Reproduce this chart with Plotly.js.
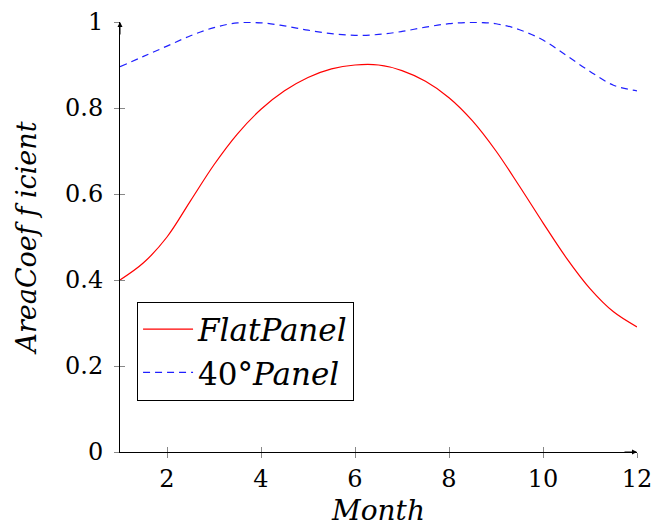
<!DOCTYPE html>
<html>
<head>
<meta charset="utf-8">
<script src="https://cdn.plot.ly/plotly-3.0.1.min.js"></script>
<style>
html,body{margin:0;padding:0;background:#fff;}
#chart{width:655px;height:527px;}
</style>
</head>
<body>
<div id="chart"></div>
<script>
// Months (half-month sampling)
const months = [1,1.5,2,2.5,3,3.5,4,4.5,5,5.5,6,6.5,7,7.5,8,8.5,9,9.5,10,10.5,11,11.5,12];
const flatPanel = [0.400,0.440,0.500,0.584,0.668,0.740,0.797,0.840,0.871,0.891,0.900,0.900,0.887,0.862,0.824,0.770,0.700,0.618,0.533,0.451,0.380,0.326,0.291];
const tiltPanel = [0.896,0.920,0.944,0.968,0.987,0.998,0.998,0.991,0.981,0.973,0.969,0.971,0.978,0.988,0.996,0.999,0.996,0.982,0.958,0.922,0.885,0.853,0.840];
const seriesNames = ['<i>FlatPanel</i>', '40°<i>Panel</i>'];
const xTicks = [2,4,6,8,10,12];
const yTicks = [0,0.2,0.4,0.6,0.8,1];
const yTickText = ['0','0.2','0.4','0.6','0.8','1'];

const serif = 'DejaVu Serif';

const traces = [
  {x: months, y: flatPanel, name: seriesNames[0], type: 'scatter', mode: 'lines',
   line: {color: '#ff0000', width: 1.2, shape: 'spline', smoothing: 1}, xaxis: 'x', yaxis: 'y'},
  {x: months, y: tiltPanel, name: seriesNames[1], type: 'scatter', mode: 'lines',
   line: {color: '#2020ff', width: 1.2, dash: '7px,5px', shape: 'spline', smoothing: 1}, xaxis: 'x2', yaxis: 'y2'}
];

const baseAxis = {showgrid: false, zeroline: false, fixedrange: true};
const layout = {
  width: 655, height: 527,
  margin: {l: 120, r: 18, t: 22, b: 75},
  paper_bgcolor: '#fff', plot_bgcolor: '#fff',
  showlegend: true,
  font: {family: serif, size: 24, color: '#000'},
  xaxis: Object.assign({}, baseAxis, {
    range: [1, 12], tickvals: xTicks, ticktext: xTicks.map(String),
    ticks: 'outside', ticklen: 5, tickcolor: '#888', tickwidth: 1,
    showline: true, linecolor: '#000', linewidth: 1,
    tickfont: {family: serif, size: 24},
    title: {text: '<i>Month</i>', font: {family: serif, size: 28}, standoff: 12}
  }),
  yaxis: Object.assign({}, baseAxis, {
    range: [0, 1], tickvals: yTicks, ticktext: yTickText,
    ticks: 'outside', ticklen: 5, tickcolor: '#888', tickwidth: 1,
    showline: true, linecolor: '#000', linewidth: 1,
    tickfont: {family: serif, size: 24},
    ticklabelstandoff: 6,
    title: {text: '<i>AreaCoef f icient</i>', font: {family: serif, size: 27}, standoff: 20}
  }),
  xaxis2: Object.assign({}, baseAxis, {
    range: [1, 12], tickvals: xTicks, overlaying: 'x', anchor: 'y2',
    ticks: 'inside', ticklen: 5, tickcolor: '#888', tickwidth: 1,
    showticklabels: false, showline: false
  }),
  yaxis2: Object.assign({}, baseAxis, {
    range: [0, 1], tickvals: yTicks, overlaying: 'y', anchor: 'x2',
    ticks: 'inside', ticklen: 5, tickcolor: '#888', tickwidth: 1,
    showticklabels: false, showline: false
  }),
  legend: {
    x: 0.033, y: 0.35, xanchor: 'left', yanchor: 'top',
    bgcolor: '#fff', bordercolor: '#000', borderwidth: 1,
    font: {family: serif, size: 31}, tracegroupgap: 0, itemwidth: 50
  },
  annotations: [
    {x: 12, y: 0, xref: 'x', yref: 'y', ax: -14, ay: 0, axref: 'pixel', ayref: 'pixel',
     text: '', showarrow: true, arrowhead: 2, arrowsize: 1, arrowwidth: 1, arrowcolor: '#000'},
    {x: 1, y: 1, xref: 'x', yref: 'y', ax: 0, ay: 14, axref: 'pixel', ayref: 'pixel',
     text: '', showarrow: true, arrowhead: 2, arrowsize: 1, arrowwidth: 1, arrowcolor: '#000'}
  ]
};

Plotly.newPlot('chart', traces, layout, {staticPlot: true, displayModeBar: false});
</script>
</body>
</html>
